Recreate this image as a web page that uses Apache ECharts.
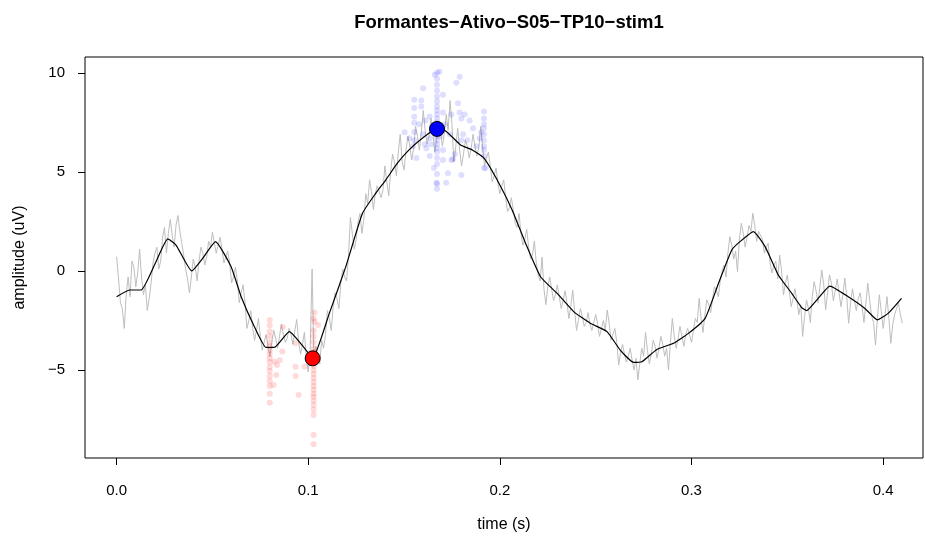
<!DOCTYPE html>
<html>
<head>
<meta charset="utf-8">
<script src="https://cdn.jsdelivr.net/npm/echarts@6/dist/echarts.min.js"></script>
<style>html,body{margin:0;padding:0;background:#fff;}#c{width:925px;height:541px;}</style>
</head>
<body>
<div id="c"></div>
<script>
// ---- data ----
var chartTitle = "Formantes\u2212Ativo\u2212S05\u2212TP10\u2212stim1";
var xTicks = [0, 0.1, 0.2, 0.3, 0.4];
var yTicks = [-5, 0, 5, 10];
var grayStep = 0.001; // raw signal sample spacing (s)
var grayVals = [
 0.72,-0.4,-1.6,-1.9,-2.9,-1.2,-0.3,-1.3,0.5,0.2,-0.8,-0.1,1.1,-0.3,-1.2,-0.7,-2.0,-1.4,-0.6,0.4,
 0.9,1.2,0.1,0.5,1.7,2.2,0.9,1.9,2.6,1.8,1.2,2.3,2.8,2.0,1.4,0.8,0.1,-0.4,-1.1,-0.3,
 0.6,0.2,-0.5,0.5,1.2,0.9,0.3,0.7,1.5,1.2,1.95,1.4,0.9,1.3,1.7,1.1,0.4,0.7,1.0,0.4,
 -0.6,-0.3,0.2,-0.5,-1.6,-1.1,-0.7,-1.6,-2.9,-2.5,-2.0,-2.9,-3.5,-3.0,-2.4,-3.3,-4.0,-3.6,-3.2,-3.8,
 -4.3,-3.6,-3.0,-3.4,-3.9,-3.3,-2.7,-3.2,-3.6,-3.4,-2.9,-3.2,-3.7,-3.0,-2.45,-3.6,-4.2,-3.7,-3.1,-4.4,
 -5.1,-4.0,0.1,-4.6,-3.8,-4.2,-4.7,-3.5,-3.9,-3.2,-2.0,-2.4,-3.0,-1.8,-1.1,-1.4,-1.9,-0.6,0.1,-0.3,
 -0.5,0.8,2.7,1.9,1.1,1.6,2.5,2.9,1.9,2.6,3.9,3.4,4.6,4.0,3.1,3.9,4.3,4.4,3.7,4.1,
 5.3,4.5,3.8,5.0,5.9,5.5,4.8,6.0,6.9,5.5,5.1,6.1,6.8,6.3,5.6,6.2,7.3,6.8,6.1,7.0,
 8.1,7.1,6.4,6.8,7.7,7.0,6.0,6.7,7.4,7.0,6.3,6.9,7.9,7.1,8.6,7.4,5.5,6.3,7.2,6.1,
 5.3,5.9,6.6,6.3,5.7,6.2,6.9,6.3,5.8,6.2,7.3,6.2,5.3,5.7,6.0,5.3,4.5,4.8,5.2,4.4,
 3.9,4.3,4.6,3.7,3.0,3.2,3.7,3.1,2.4,2.2,2.9,1.9,1.3,1.6,2.1,1.2,0.6,0.8,1.5,0.4,
 -0.2,-0.5,0.7,-0.9,-1.7,-0.8,-0.3,-0.9,-1.5,-1.2,-0.7,-1.3,-1.9,-1.5,-1.0,-1.6,-2.4,-1.8,-0.96,-2.0,
 -3.0,-2.5,-1.9,-2.3,-2.8,-2.6,-2.1,-2.7,-3.0,-2.6,-2.2,-2.7,-3.3,-2.9,-2.5,-3.0,-1.97,-2.6,-3.5,-3.2,
 -2.9,-3.6,-4.75,-4.1,-3.7,-4.2,-4.6,-4.3,-3.9,-4.5,-5.0,-4.4,-5.5,-4.7,-3.9,-4.3,-3.1,-4.0,-4.7,-4.2,
 -3.5,-3.8,-4.4,-3.9,-3.3,-3.7,-4.3,-3.9,-5.0,-3.6,-2.4,-3.3,-3.9,-3.4,-2.8,-3.3,-3.8,-3.2,-2.9,-3.0,
 -3.6,-3.0,-2.4,-2.6,-1.38,-2.4,-3.1,-2.2,-1.46,-1.7,-2.1,-1.4,-0.8,-1.0,-1.3,-0.5,0.0,0.3,-0.3,0.9,
 1.73,1.3,0.6,1.0,-0.03,1.6,2.41,1.9,1.2,1.7,2.3,2.0,2.91,2.3,1.5,2.0,2.1,1.6,0.9,1.2,
 1.4,0.4,-0.1,0.3,0.5,-0.4,0.8,0.0,-1.2,-0.6,-0.2,-1.0,-1.8,-1.4,-0.9,-1.5,-2.2,-1.7,-3.3,-2.3,
 -1.46,-1.9,-2.6,-1.3,-0.54,-1.0,-1.6,-0.8,0.05,-0.7,-1.97,-1.1,-0.2,-0.6,-1.5,-1.0,-0.4,-1.1,-1.8,-1.2,
 -0.36,-1.3,-2.64,-1.6,-0.9,-1.5,-2.0,-1.4,-1.1,-1.8,-2.6,-1.6,-0.62,-1.5,-2.3,-2.6,-3.74,-2.4,-1.2,-2.0,
 -2.9,-2.2,-1.3,-2.4,-3.65,-2.7,-2.2,-1.9,-1.6,-2.2,-2.64
];
var smoothT = [0,0.0068,0.0128,0.020,0.0267,0.031,0.0392,0.045,0.0516,0.0597,0.065,0.0719,0.078,0.0823,0.0901,0.0988,0.1023,0.111,0.1196,0.1283,0.1352,0.1405,0.1465,0.1526,0.1595,0.167,0.1717,0.1795,0.1856,0.1917,0.1995,0.2064,0.2134,0.2212,0.2299,0.2385,0.2472,0.2559,0.2628,0.2698,0.2741,0.2819,0.2906,0.2984,0.3071,0.3141,0.321,0.3253,0.3323,0.3384,0.3453,0.3523,0.3575,0.360,0.3661,0.3722,0.3818,0.3905,0.397,0.4026,0.4096];
var smoothV = [-1.30,-0.96,-0.96,0.35,1.62,1.31,0.00,0.65,1.48,0.22,-1.30,-2.81,-3.86,-3.86,-3.06,-3.99,-4.41,-2.14,0.22,2.91,3.92,4.60,5.44,6.11,6.70,7.17,7.07,6.36,6.11,5.69,4.43,3.08,1.40,-0.29,-1.13,-2.05,-2.64,-3.06,-3.99,-4.61,-4.58,-3.96,-3.65,-3.15,-2.39,-0.62,1.06,1.48,1.99,1.23,-0.20,-1.13,-1.85,-2.00,-1.38,-0.76,-1.30,-1.89,-2.47,-2.14,-1.38];
var redT = [0.0799,0.0799,0.0799,0.0799,0.0799,0.0799,0.0799,0.0799,0.0799,0.0799,0.0799,0.0799,0.0799,0.0799,0.0799,0.0799,0.0799,
 0.1028,0.1028,0.1028,0.1028,0.1028,0.1028,0.1028,0.1028,0.1028,0.1028,0.1028,0.1028,0.1028,0.1028,0.1028,0.1028,0.1028,0.1028,0.1028,0.1028,0.1028,0.1028,0.1028,
 0.0819,0.0824,0.0833,0.0837,0.0851,0.0865,0.0868,0.0933,0.0934,0.0934,0.095,0.0981,0.1033,0.1033,0.1051];
var redV = [-2.47,-2.75,-3.05,-3.3,-3.6,-3.8,-4.0,-4.2,-4.4,-4.6,-4.85,-5.05,-5.3,-5.55,-5.8,-6.2,-6.65,
 -2.4,-3.0,-3.3,-3.6,-3.9,-4.1,-4.3,-4.6,-4.8,-5.0,-5.2,-5.4,-5.6,-5.8,-6.0,-6.2,-6.35,-6.55,-6.77,-7.0,-7.27,-8.28,-8.74,
 -5.76,-4.58,-5.25,-4.75,-4.5,-4.07,-2.83,-3.65,-4.83,-5.3,-6.26,-4.83,-2.56,-2.1,-2.73];
var blueT = [0.1672,0.1672,0.1672,0.1672,0.1672,0.1672,0.1672,0.1672,0.1672,0.1672,0.1672,0.1672,0.1672,0.1672,0.1672,0.1672,0.1672,0.1672,0.1672,0.1672,0.1672,0.1672,0.1672,
 0.1917,0.1917,0.1917,0.1917,0.1917,0.1917,0.1917,0.1917,0.1917,0.1917,
 0.1553,0.1553,0.1553,0.1553,0.1553,0.1553,
 0.1503,0.1529,0.159,0.159,0.1599,0.1616,0.1634,0.1634,0.1634,0.1656,0.1669,0.172,0.1729,0.1703,0.1703,0.1703,0.1703,0.1747,0.1755,0.1773,0.179,0.1781,0.179,0.1799,0.1816,0.1799,0.1799,0.1747,0.1842,0.186,0.1877,0.1903,0.1925,0.1546,0.1599,0.1608,0.1564,0.1660,0.1685,
 0.1578,0.1612,0.1640,0.1690,0.1712,0.1738,0.1765,0.1808,0.1830,0.1895];
var blueV = [10.0,9.7,9.4,9.1,8.8,8.55,8.3,8.1,7.9,7.7,7.5,7.3,7.0,6.8,6.6,6.4,6.2,6.0,5.7,5.4,4.9,4.4,4.15,
 8.05,7.7,7.4,7.2,6.9,6.6,6.3,6.1,5.8,5.2,
 8.64,8.23,7.78,7.48,7.02,6.6,
 7.0,6.7,8.6,8.3,9.22,6.2,7.8,6.7,5.8,5.2,4.45,4.45,4.93,6.1,5.6,8.9,8.0,7.9,5.65,9.5,9.8,8.47,8.0,7.7,7.9,6.6,4.85,5.6,7.6,7.2,6.3,7.0,5.2,6.3,6.9,6.4,5.7,9.9,10.05,
 7.4,7.6,6.4,6.8,7.4,6.9,5.9,6.9,6.6,6.7];
var minPoint = [0.1023, -4.41];
var maxPoint = [0.1672, 7.17];

// ---- build ----
function zip(a, b) { var r = []; for (var i = 0; i < a.length; i++) r.push([a[i], b[i]]); return r; }
var grayData = grayVals.map(function (v, i) { return [+(i * grayStep).toFixed(4), v]; });
var smoothData = zip(smoothT, smoothV);
var redData = zip(redT, redV);
var blueData = zip(blueT, blueV);
var FONT = "Liberation Sans, Arial, Helvetica, sans-serif";
function minus(v) { return String(v).replace('-', '\u2212'); }

var chart = echarts.init(document.getElementById('c'), null, { renderer: 'canvas' });
chart.setOption({
  animation: false,
  backgroundColor: '#ffffff',
  title: {
    text: chartTitle, left: 504, top: 8, textAlign: 'center',
    textStyle: { fontFamily: FONT, fontSize: 18.5, fontWeight: 'bold', color: '#000' }
  },
  grid: { left: 85, right: 2, top: 57, bottom: 83, show: true, borderColor: '#000', borderWidth: 1, backgroundColor: 'transparent' },
  xAxis: {
    type: 'value', min: -0.0165, max: 0.4208,
    name: 'time (s)', nameLocation: 'middle', nameGap: 59,
    nameTextStyle: { fontFamily: FONT, fontSize: 16, color: '#000' },
    splitLine: { show: false },
    axisLine: { show: false, onZero: false },
    axisTick: { show: true, inside: false, length: 7, customValues: xTicks, lineStyle: { color: '#000' } },
    axisLabel: { customValues: xTicks, margin: 25, fontFamily: FONT, fontSize: 15, color: '#000',
      formatter: function (v) { return v.toFixed(1); } }
  },
  yAxis: {
    type: 'value', min: -9.44, max: 10.8,
    name: 'amplitude (uV)', nameLocation: 'middle', nameGap: 57, nameRotate: 90,
    nameTextStyle: { fontFamily: FONT, fontSize: 16, color: '#000' },
    splitLine: { show: false },
    axisLine: { show: false, onZero: false },
    axisTick: { show: true, inside: false, length: 7, customValues: yTicks, lineStyle: { color: '#000' } },
    axisLabel: { customValues: yTicks, margin: 20, fontFamily: FONT, fontSize: 15, color: '#000',
      formatter: function (v) { return minus(v); } }
  },
  series: [
    { type: 'line', data: grayData, showSymbol: false, symbol: 'none', lineStyle: { color: '#BEBEBE', width: 1 }, z: 1 },
    { type: 'scatter', data: redData, symbolSize: 6, itemStyle: { color: 'rgba(255,0,0,0.18)' }, z: 2 },
    { type: 'scatter', data: blueData, symbolSize: 6, itemStyle: { color: 'rgba(0,0,255,0.16)' }, z: 2 },
    { type: 'line', data: smoothData, smooth: 0.15, showSymbol: false, symbol: 'none', lineStyle: { color: '#000', width: 1.2 }, z: 3 },
    { type: 'scatter', data: [minPoint], symbolSize: 15, itemStyle: { color: '#FF0000', opacity: 1, borderColor: '#000', borderWidth: 1 }, z: 4 },
    { type: 'scatter', data: [maxPoint], symbolSize: 15, itemStyle: { color: '#0000FF', opacity: 1, borderColor: '#000', borderWidth: 1 }, z: 4 }
  ]
});
</script>
</body>
</html>
